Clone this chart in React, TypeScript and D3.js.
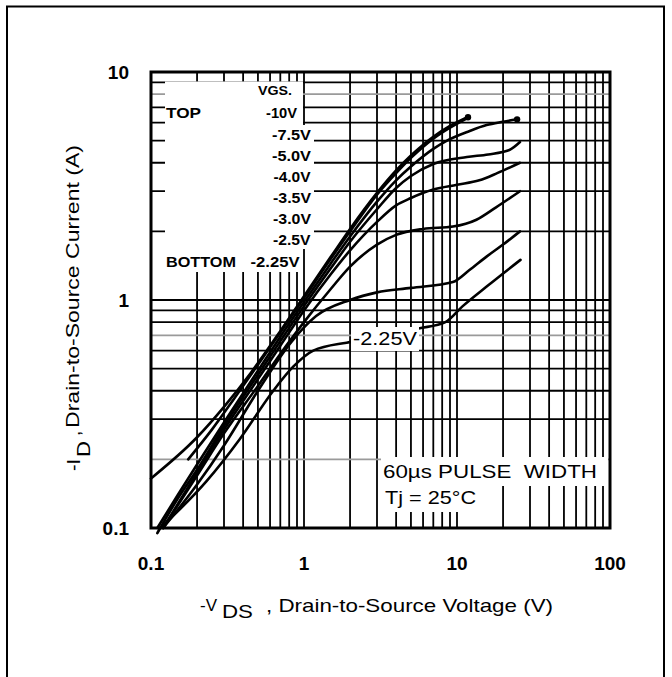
import React from "react";
import * as d3 from "d3";

// ---- data (VDS in V, -ID in A) ----
const vgsLabels = ["-10V", "-7.5V", "-5.0V", "-4.0V", "-3.5V", "-3.0V", "-2.5V", "-2.25V"];

const vgs10: [number, number][] = [[0.1,0.165],[0.2,0.25],[0.3,0.34],[0.45,0.48],[0.7,0.73],[1,1.04],[1.5,1.55],[2,2.05],[3,2.95],[4,3.7],[5,4.3],[7,5.2],[9,5.8],[11.8,6.35]];
const vgs75: [number, number][] = [[0.175,0.2],[0.25,0.27],[0.35,0.37],[0.5,0.52],[0.7,0.72],[1,1.02],[1.5,1.52],[2,2.0],[3,2.9],[4,3.6],[5,4.2],[7,5.1],[9,5.7],[11.8,6.3]];
const vgs50: [number, number][] = [[0.11,0.1],[0.15,0.14],[0.2,0.19],[0.3,0.29],[0.5,0.49],[0.7,0.69],[1,0.98],[1.5,1.45],[2,1.9],[3,2.7],[4,3.35],[5,3.85],[7,4.6],[8.6,5.0],[12,5.5],[15.6,5.85],[20,6.05],[24.7,6.2]];
const vgs40: [number, number][] = [[0.11,0.095],[0.15,0.135],[0.2,0.18],[0.3,0.28],[0.5,0.47],[0.7,0.66],[1,0.94],[1.5,1.38],[2,1.8],[3,2.5],[4,3.1],[5,3.5],[7,3.95],[11.6,4.24],[16,4.35],[22,4.55],[25.8,4.93]];
const vgs35: [number, number][] = [[0.12,0.1],[0.2,0.175],[0.3,0.27],[0.5,0.45],[0.7,0.63],[1,0.9],[1.5,1.3],[2,1.65],[3,2.2],[4,2.6],[5,2.8],[7,3.05],[10,3.2],[14,3.35],[18.3,3.6],[25.8,4.0]];
const vgs30: [number, number][] = [[0.12,0.1],[0.2,0.17],[0.3,0.26],[0.5,0.42],[0.7,0.58],[1,0.8],[1.5,1.12],[2,1.4],[3,1.75],[4,1.93],[6,2.05],[9.4,2.1],[13.4,2.25],[18,2.55],[25.8,3.0]];
const vgs25: [number, number][] = [[0.12,0.1],[0.2,0.155],[0.3,0.23],[0.5,0.4],[0.835,0.66],[1.2,0.85],[2,1.0],[3,1.08],[5,1.13],[9.4,1.2],[12,1.35],[15.6,1.55],[20,1.75],[25.8,2.0]];
const vgs225: [number, number][] = [[0.115,0.1],[0.23,0.16],[0.38,0.245],[0.63,0.4],[0.85,0.51],[1.15,0.6],[1.9,0.65],[3,0.68],[5.6,0.75],[8.4,0.8],[10.9,0.94],[16,1.16],[26,1.5]];

const curves = [vgs10, vgs75, vgs50, vgs40, vgs35, vgs30, vgs25, vgs225];
const endDots: [number, number][] = [[11.8, 6.33], [24.7, 6.2]];

const xTickValues = [0.1, 1, 10, 100];
const xTickLabels = ["0.1", "1", "10", "100"];
const yTickValues = [0.1, 1, 10];
const yTickLabels = ["0.1", "1", "10"];
const grayGridY = [0.2, 0.7, 8];

const FONT = "'Liberation Sans', Arial, sans-serif";

export default function App() {
  const x = d3.scaleLog().domain([0.1, 100]).range([151, 610]);
  const y = d3.scaleLog().domain([0.1, 10]).range([528, 72]);
  const gx = x.ticks();
  const gy = y.ticks();
  const line = d3
    .line<[number, number]>()
    .x((d) => x(d[0]))
    .y((d) => y(d[1]))
    .curve(d3.curveMonotoneX);

  // legend layout
  const legendBaselines = [118, 140, 160.5, 182, 203, 224, 245, 266.5];
  const legendRight = [297, 311, 311, 310.5, 311, 311, 310.5, 299.5];
  const legendWidths = [31, 39, 39, 37, 38, 38, 37.5, 49];

  return (
    <svg
      width={672}
      height={677}
      style={{ position: "absolute", left: 0, top: 0, background: "#fff" }}
    >
      <rect x={7} y={6.5} width={657} height={720} fill="#fff" stroke="#000" strokeWidth={2} />

      {/* grid */}
      <g>
        {gx.map((v, i) => (
          <line key={"gx" + i} x1={x(v)} x2={x(v)} y1={72} y2={528} stroke="#000" strokeWidth={1.8} />
        ))}
        {gy.map((v, i) => (
          <line
            key={"gy" + i}
            x1={151}
            x2={610}
            y1={y(v)}
            y2={y(v)}
            stroke={grayGridY.some((g) => Math.abs(g - v) < 1e-9) ? "#9a9a9a" : "#000"}
            strokeWidth={1.8}
          />
        ))}
      </g>

      {/* legend mask */}
      <rect x={165} y={81.5} width={138} height={190.5} fill="#fff" />
      <rect x={300} y={125} width={14} height={124} fill="#fff" />

      {/* curves */}
      <g fill="none" stroke="#000" strokeWidth={2.6} strokeLinejoin="round" strokeLinecap="round">
        {curves.map((c, i) => (
          <path key={"c" + i} d={line(c) || ""} />
        ))}
      </g>
      {endDots.map((d, i) => (
        <circle key={"dot" + i} cx={x(d[0])} cy={y(d[1])} r={3.2} fill="#000" />
      ))}

      {/* legend text */}
      <g fontFamily={FONT} fontWeight="bold" fill="#000">
        <text x={292} y={95} fontSize={12} textAnchor="end" textLength={34} lengthAdjust="spacingAndGlyphs">VGS.</text>
        <text x={166} y={118} fontSize={14} textLength={35} lengthAdjust="spacingAndGlyphs">TOP</text>
        <text x={166} y={266.5} fontSize={14} textLength={70} lengthAdjust="spacingAndGlyphs">BOTTOM</text>
        {vgsLabels.map((s, i) => (
          <text
            key={"lg" + i}
            x={legendRight[i] - legendWidths[i]}
            y={legendBaselines[i]}
            fontSize={14}
            textLength={legendWidths[i]}
            lengthAdjust="spacingAndGlyphs"
          >
            {s}
          </text>
        ))}
      </g>

      {/* in-plot -2.25V label */}
      <rect x={351} y={327} width={68} height={24} fill="#fff" />
      <text x={353} y={345} fontFamily={FONT} fontSize={18} textLength={64} lengthAdjust="spacingAndGlyphs">-2.25V</text>

      {/* pulse annotation */}
      <rect x={381} y={457} width={227} height={29} fill="#fff" />
      <rect x={381} y={486} width={112} height={26} fill="#fff" />
      <g fontFamily={FONT} fontSize={19} fill="#000">
        <text x={383} y={478} textLength={214} lengthAdjust="spacingAndGlyphs" style={{ whiteSpace: "pre" }}>{"60µs PULSE  WIDTH"}</text>
        <text x={385} y={504} textLength={91} lengthAdjust="spacingAndGlyphs">Tj = 25°C</text>
      </g>

      {/* frame */}
      <rect x={151} y={72} width={459} height={456} fill="none" stroke="#000" strokeWidth={3} />

      {/* tick labels */}
      <g fontFamily={FONT} fontWeight="bold" fontSize={19} fill="#000">
        {xTickValues.map((v, i) => (
          <text key={"xt" + i} x={x(v)} y={570} textAnchor="middle">{xTickLabels[i]}</text>
        ))}
        {yTickValues.map((v, i) => (
          <text key={"yt" + i} x={129} y={y(v) + 7} textAnchor="end">{yTickLabels[i]}</text>
        ))}
      </g>

      {/* axis titles */}
      <g fontFamily={FONT} fill="#000">
        <text x={200} y={611} fontSize={17} textLength={17} lengthAdjust="spacingAndGlyphs">-V</text>
        <text x={222} y={618} fontSize={19} textLength={31} lengthAdjust="spacingAndGlyphs">DS</text>
        <text x={266} y={612} fontSize={19} textLength={287} lengthAdjust="spacingAndGlyphs">, Drain-to-Source Voltage (V)</text>

        <text transform="translate(80,471) rotate(-90)" fontSize={19} textLength={12} lengthAdjust="spacingAndGlyphs">-I</text>
        <text transform="translate(90,457) rotate(-90)" fontSize={19} textLength={16} lengthAdjust="spacingAndGlyphs">D</text>
        <text transform="translate(80,436) rotate(-90)" fontSize={19}>,</text>
        <text transform="translate(79,428) rotate(-90)" fontSize={19} textLength={283} lengthAdjust="spacingAndGlyphs">Drain-to-Source Current (A)</text>
      </g>
    </svg>
  );
}
